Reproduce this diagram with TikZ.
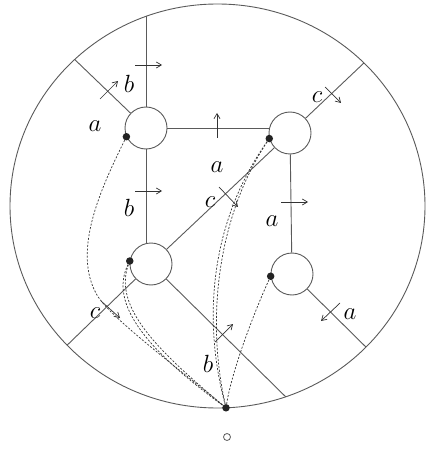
\documentclass[tikz,border=0pt]{standalone}
\usetikzlibrary{arrows.meta,calc}
\definecolor{edgecol}{RGB}{90,90,90}
\definecolor{dotcol}{RGB}{35,35,35}

\begin{document}
\begin{tikzpicture}[x=1pt, y=-1pt,
    >={Straight Barb[length=5pt,width=6pt]},
    vertex/.style={circle, draw=edgecol, line width=0.9pt, minimum size=42pt, inner sep=0pt},
    edge/.style={draw=edgecol, line width=0.9pt},
    flow/.style={->, black!80, line width=0.7pt},
    loopline/.style={black!80, line width=0.7pt, dash pattern=on 2pt off 1.6pt},
    lab/.style={font=\fontsize{23}{27}\selectfont, inner sep=0pt},
    dot/.style={circle, fill=dotcol, minimum size=7.5pt, inner sep=0pt},
]
\useasboundingbox (0,0) rectangle (426,449);
\draw[edge] (217.5,206) ellipse [x radius=207.5, y radius=202];

% vertices
\node[vertex] (nw) at (146,128) {};
\node[vertex] (ne) at (290,133) {};
\node[vertex] (sw) at (151,264) {};
\node[vertex] (se) at (292,274) {};

% ends on the rim
\coordinate (rtop) at (146,16.4);
\coordinate (rnw) at (74.7,59.5);
\coordinate (rne) at (364,62.9);
\coordinate (rsw) at (67,345.3);
\coordinate (rs) at (285.7,396.8);
\coordinate (rse) at (366,347.1);

% edges
\draw[edge] (rtop) -- (nw);
\draw[edge] (rnw) -- (nw);
\draw[edge] (nw) -- (nw |- sw.north);
\draw[edge] (nw) -- (nw -| ne.west);
\draw[edge] (ne) -- (se);
\draw[edge] (rsw) -- (sw);
\draw[edge] (sw) -- (ne);
\draw[edge] (ne) -- (rne);
\draw[edge] (sw) -- (rs);
\draw[edge] (se) -- (rse);

% crossing arrows
\draw[flow] (135,65) -- (162,65);
\draw[flow] (100,99) -- (118,81);
\draw[flow] (135,191) -- (162,191);
\draw[flow] (217,138) -- (217,113);
\draw[flow] (219,187) -- (238,207);
\draw[flow] (325,87) -- (341,103);
\draw[flow] (281,202) -- (308,202);
\draw[flow] (340,303) -- (321,321);
\draw[flow] (101,301) -- (120,318);
\draw[flow] (215,342) -- (233,324);

% labels
\node[lab] (lbtop) at (129,84) {$b$};
\node[lab] (lanw) at (95,126) {$a$};
\node[lab] (lbw) at (129,208) {$b$};
\node[lab] (lamid) at (217,167) {$a$};
\node[lab] (lcmid) at (210,202) {$c$};
\node[lab] (lcne) at (317,97) {$c$};
\node[lab] (lae) at (272,221) {$a$};
\node[lab] (lase) at (350,314) {$a$};
\node[lab] (lcsw) at (95,313) {$c$};
\node[lab] (lbs) at (208,364) {$b$};

% base point and loops
\node[dot] (dnw) at (nw.204) {};
\node[dot] (dne) at (ne.195) {};
\node[dot] (dsw) at (sw.172) {};
\node[dot] (dse) at (se.186) {};
\node[dot] (base) at (226,407.8) {};
\node[circle, draw=edgecol, line width=0.8pt, minimum size=7pt, inner sep=0pt] (mark) at (227,437) {};

\draw[loopline] (dnw) .. controls (100,190) and (72,252) .. (97,295)
    .. controls (109,316) and (170,362) .. (base);
\draw[loopline] (dsw) .. controls (108,305) and (150,352) .. (base);
\draw[loopline] (dsw) .. controls (113,307) and (157,350) .. (base);
\draw[loopline] (dne) .. controls (215,215) and (200,310) .. (base);
\draw[loopline] (dne) .. controls (220,213) and (205,313) .. (base);
\draw[loopline] (dse) .. controls (255,310) and (232,370) .. (base);
\end{tikzpicture}
\end{document}
